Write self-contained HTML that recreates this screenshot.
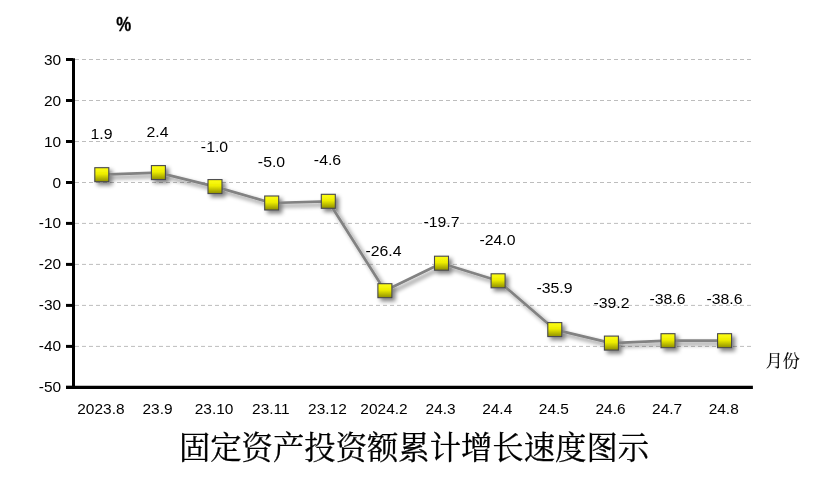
<!DOCTYPE html>
<html><head><meta charset="utf-8"><title>固定资产投资额累计增长速度图示</title>
<style>
html,body{margin:0;padding:0;background:#fff;}
body{width:831px;height:487px;overflow:hidden;}
svg{display:block;}
text{font-family:"Liberation Sans","Noto Sans CJK SC",sans-serif;fill:#000;}
.t{font-family:"Liberation Serif","Noto Serif CJK SC",serif;}
</style></head><body>
<svg width="831" height="487" viewBox="0 0 831 487">
<defs>
<linearGradient id="g" x1="0" y1="0" x2="0" y2="1"><stop offset="0" stop-color="#ffff14"/><stop offset="0.45" stop-color="#eded00"/><stop offset="1" stop-color="#8e8e00"/></linearGradient>
<filter id="sh" x="-20%" y="-20%" width="150%" height="150%"><feGaussianBlur in="SourceAlpha" stdDeviation="1.9"/><feOffset dx="2.6" dy="3"/><feComponentTransfer><feFuncA type="linear" slope="0.5"/></feComponentTransfer><feMerge><feMergeNode/><feMergeNode in="SourceGraphic"/></feMerge></filter>
</defs>
<rect width="831" height="487" fill="#fff"/>

<line x1="75" y1="346.4" x2="752.5" y2="346.4" stroke="#bdbdbd" stroke-width="1" stroke-dasharray="4 3"/>
<line x1="75" y1="305.4" x2="752.5" y2="305.4" stroke="#bdbdbd" stroke-width="1" stroke-dasharray="4 3"/>
<line x1="75" y1="264.4" x2="752.5" y2="264.4" stroke="#bdbdbd" stroke-width="1" stroke-dasharray="4 3"/>
<line x1="75" y1="223.4" x2="752.5" y2="223.4" stroke="#bdbdbd" stroke-width="1" stroke-dasharray="4 3"/>
<line x1="75" y1="182.5" x2="752.5" y2="182.5" stroke="#bdbdbd" stroke-width="1" stroke-dasharray="4 3"/>
<line x1="75" y1="141.5" x2="752.5" y2="141.5" stroke="#bdbdbd" stroke-width="1" stroke-dasharray="4 3"/>
<line x1="75" y1="100.5" x2="752.5" y2="100.5" stroke="#bdbdbd" stroke-width="1" stroke-dasharray="4 3"/>
<line x1="75" y1="59.5" x2="752.5" y2="59.5" stroke="#bdbdbd" stroke-width="1" stroke-dasharray="4 3"/>
<line x1="73.5" y1="58.2" x2="73.5" y2="388.8" stroke="#000" stroke-width="3"/>
<line x1="66" y1="387.4" x2="752.9" y2="387.4" stroke="#000" stroke-width="3.2"/>
<line x1="66" y1="387.4" x2="73" y2="387.4" stroke="#000" stroke-width="3"/>
<text transform="translate(61.2,392.4) scale(1.06,1)" text-anchor="end" font-size="14.6">-50</text>
<line x1="66" y1="346.4" x2="73" y2="346.4" stroke="#000" stroke-width="3"/>
<text transform="translate(61.2,351.4) scale(1.06,1)" text-anchor="end" font-size="14.6">-40</text>
<line x1="66" y1="305.4" x2="73" y2="305.4" stroke="#000" stroke-width="3"/>
<text transform="translate(61.2,310.4) scale(1.06,1)" text-anchor="end" font-size="14.6">-30</text>
<line x1="66" y1="264.4" x2="73" y2="264.4" stroke="#000" stroke-width="3"/>
<text transform="translate(61.2,269.4) scale(1.06,1)" text-anchor="end" font-size="14.6">-20</text>
<line x1="66" y1="223.4" x2="73" y2="223.4" stroke="#000" stroke-width="3"/>
<text transform="translate(61.2,228.4) scale(1.06,1)" text-anchor="end" font-size="14.6">-10</text>
<line x1="66" y1="182.5" x2="73" y2="182.5" stroke="#000" stroke-width="3"/>
<text transform="translate(61.2,187.5) scale(1.06,1)" text-anchor="end" font-size="14.6">0</text>
<line x1="66" y1="141.5" x2="73" y2="141.5" stroke="#000" stroke-width="3"/>
<text transform="translate(61.2,146.5) scale(1.06,1)" text-anchor="end" font-size="14.6">10</text>
<line x1="66" y1="100.5" x2="73" y2="100.5" stroke="#000" stroke-width="3"/>
<text transform="translate(61.2,105.5) scale(1.06,1)" text-anchor="end" font-size="14.6">20</text>
<line x1="66" y1="59.5" x2="73" y2="59.5" stroke="#000" stroke-width="3"/>
<text transform="translate(61.2,64.5) scale(1.06,1)" text-anchor="end" font-size="14.6">30</text>
<text transform="translate(100.9,414) scale(1.06,1)" text-anchor="middle" font-size="14.6">2023.8</text>
<text transform="translate(157.5,414) scale(1.06,1)" text-anchor="middle" font-size="14.6">23.9</text>
<text transform="translate(214.1,414) scale(1.06,1)" text-anchor="middle" font-size="14.6">23.10</text>
<text transform="translate(270.8,414) scale(1.06,1)" text-anchor="middle" font-size="14.6">23.11</text>
<text transform="translate(327.4,414) scale(1.06,1)" text-anchor="middle" font-size="14.6">23.12</text>
<text transform="translate(384.0,414) scale(1.06,1)" text-anchor="middle" font-size="14.6">2024.2</text>
<text transform="translate(440.6,414) scale(1.06,1)" text-anchor="middle" font-size="14.6">24.3</text>
<text transform="translate(497.2,414) scale(1.06,1)" text-anchor="middle" font-size="14.6">24.4</text>
<text transform="translate(553.9,414) scale(1.06,1)" text-anchor="middle" font-size="14.6">24.5</text>
<text transform="translate(610.5,414) scale(1.06,1)" text-anchor="middle" font-size="14.6">24.6</text>
<text transform="translate(667.1,414) scale(1.06,1)" text-anchor="middle" font-size="14.6">24.7</text>
<text transform="translate(723.7,414) scale(1.06,1)" text-anchor="middle" font-size="14.6">24.8</text>
<g filter="url(#sh)">
<polyline points="101.8,174.7 158.4,172.6 215.0,186.6 271.7,203.0 328.3,201.3 384.9,290.7 441.5,263.2 498.1,280.8 554.8,329.6 611.4,343.1 668.0,340.7 724.6,340.7" fill="none" stroke="#828282" stroke-width="2.7" stroke-linejoin="round"/>
<rect x="94.8" y="167.7" width="14" height="14" fill="url(#g)" stroke="#47474d" stroke-width="1.1"/>
<rect x="151.4" y="165.6" width="14" height="14" fill="url(#g)" stroke="#47474d" stroke-width="1.1"/>
<rect x="208.0" y="179.6" width="14" height="14" fill="url(#g)" stroke="#47474d" stroke-width="1.1"/>
<rect x="264.7" y="196.0" width="14" height="14" fill="url(#g)" stroke="#47474d" stroke-width="1.1"/>
<rect x="321.3" y="194.3" width="14" height="14" fill="url(#g)" stroke="#47474d" stroke-width="1.1"/>
<rect x="377.9" y="283.7" width="14" height="14" fill="url(#g)" stroke="#47474d" stroke-width="1.1"/>
<rect x="434.5" y="256.2" width="14" height="14" fill="url(#g)" stroke="#47474d" stroke-width="1.1"/>
<rect x="491.1" y="273.8" width="14" height="14" fill="url(#g)" stroke="#47474d" stroke-width="1.1"/>
<rect x="547.8" y="322.6" width="14" height="14" fill="url(#g)" stroke="#47474d" stroke-width="1.1"/>
<rect x="604.4" y="336.1" width="14" height="14" fill="url(#g)" stroke="#47474d" stroke-width="1.1"/>
<rect x="661.0" y="333.7" width="14" height="14" fill="url(#g)" stroke="#47474d" stroke-width="1.1"/>
<rect x="717.6" y="333.7" width="14" height="14" fill="url(#g)" stroke="#47474d" stroke-width="1.1"/>
</g>
<text transform="translate(101.5,139) scale(1.085,1)" text-anchor="middle" font-size="14.6">1.9</text>
<text transform="translate(157.5,137) scale(1.085,1)" text-anchor="middle" font-size="14.6">2.4</text>
<text transform="translate(214.5,152) scale(1.085,1)" text-anchor="middle" font-size="14.6">-1.0</text>
<text transform="translate(271.5,167) scale(1.085,1)" text-anchor="middle" font-size="14.6">-5.0</text>
<text transform="translate(327.5,165) scale(1.085,1)" text-anchor="middle" font-size="14.6">-4.6</text>
<text transform="translate(383.5,256) scale(1.085,1)" text-anchor="middle" font-size="14.6">-26.4</text>
<text transform="translate(441.5,227) scale(1.085,1)" text-anchor="middle" font-size="14.6">-19.7</text>
<text transform="translate(497.5,245) scale(1.085,1)" text-anchor="middle" font-size="14.6">-24.0</text>
<text transform="translate(554.5,293) scale(1.085,1)" text-anchor="middle" font-size="14.6">-35.9</text>
<text transform="translate(611.5,308) scale(1.085,1)" text-anchor="middle" font-size="14.6">-39.2</text>
<text transform="translate(667.5,304) scale(1.085,1)" text-anchor="middle" font-size="14.6">-38.6</text>
<text transform="translate(724.5,304) scale(1.085,1)" text-anchor="middle" font-size="14.6">-38.6</text>
<text transform="translate(123.7,31.4) scale(0.86,1)" text-anchor="middle" font-size="19.6" font-weight="bold" stroke="#000" stroke-width="0.3">%</text>
<text class="t" x="765.8" y="367" font-size="17" stroke="#000" stroke-width="0.15">月份</text>
<text class="t" x="414" y="458.5" font-size="31.35" stroke="#000" stroke-width="0.3" text-anchor="middle">固定资产投资额累计增长速度图示</text>
</svg></body></html>
